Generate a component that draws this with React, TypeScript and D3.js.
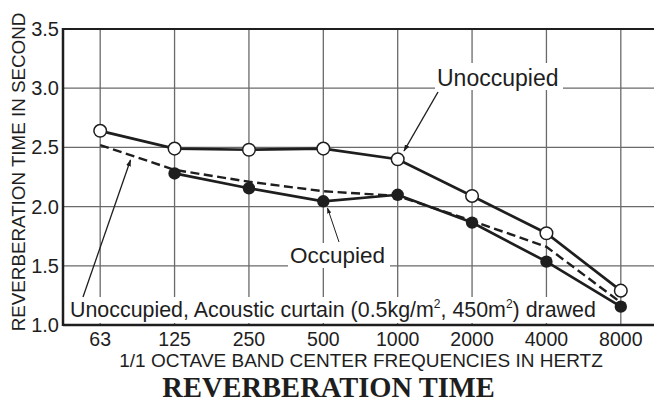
import * as d3 from 'd3';

const frequencies = ['63', '125', '250', '500', '1000', '2000', '4000', '8000'];
const unoccupied = [2.64, 2.49, 2.48, 2.49, 2.4, 2.09, 1.775, 1.29];
const occupied: (number | null)[] = [null, 2.28, 2.155, 2.045, 2.1, 1.865, 1.535, 1.155];
const curtain = [2.52, 2.31, 2.21, 2.13, 2.09, 1.88, 1.66, 1.19];
const yTicks = [1.0, 1.5, 2.0, 2.5, 3.0, 3.5];

const W = 654;
const H = 402;
const margin = { top: 29, left: 63, bottom: 325, right: 658 };
const font = 'Liberation Sans, Arial, Helvetica, sans-serif';
const ink = '#1e1e1e';
const grid = '#6a6a6a';

export default function App() {
  const x = d3.scalePoint<string>().domain(frequencies).range([margin.left, margin.right]).padding(0.5);
  const y = d3.scaleLinear().domain([1, 3.5]).range([margin.bottom, margin.top]);

  const line = d3.line<{ f: string; v: number | null }>()
    .defined((d) => d.v !== null)
    .x((d) => x(d.f)!)
    .y((d) => y(d.v as number));

  const pts = (vals: (number | null)[]) => vals.map((v, i) => ({ f: frequencies[i], v }));

  return (
    <div style={{ position: 'fixed', left: 0, top: 0 }}>
      <svg width={W} height={H} style={{ display: 'block', background: '#fff' }}>
        <defs>
          <marker id="ah" viewBox="0 0 10 10" refX="9" refY="5" markerWidth="7" markerHeight="7" orient="auto-start-reverse" markerUnits="userSpaceOnUse">
            <path d="M0,1.5 L10,5 L0,8.5 Z" fill={ink} />
          </marker>
          <marker id="ahs" viewBox="0 0 10 10" refX="9" refY="5" markerWidth="6" markerHeight="6" orient="auto-start-reverse" markerUnits="userSpaceOnUse">
            <path d="M0,1.5 L10,5 L0,8.5 Z" fill={ink} />
          </marker>
        </defs>

        {/* grid */}
        {frequencies.map((f) => (
          <line key={f} x1={x(f)} x2={x(f)} y1={margin.top} y2={margin.bottom} stroke={grid} strokeWidth={1.3} />
        ))}
        {yTicks.slice(1, -1).map((t) => (
          <line key={t} x1={margin.left} x2={margin.right} y1={y(t)} y2={y(t)} stroke={grid} strokeWidth={1.3} />
        ))}

        {/* frame */}
        <line x1={margin.left} x2={margin.right} y1={margin.top} y2={margin.top} stroke={ink} strokeWidth={2} />
        <line x1={margin.left} x2={margin.right} y1={margin.bottom} y2={margin.bottom} stroke={ink} strokeWidth={2.5} />
        <line x1={margin.left} x2={margin.left} y1={margin.top - 1} y2={margin.bottom + 1} stroke={ink} strokeWidth={2.5} />

        {/* label backgrounds */}
        <rect x={435} y={63} width={128} height={27} fill="#fff" />
        <rect x={288} y={243} width={102} height={25} fill="#fff" />
        <rect x={67} y={297} width={534} height={26} fill="#fff" />

        {/* series */}
        <path d={line(pts(curtain)) ?? ''} fill="none" stroke={ink} strokeWidth={2.4} strokeDasharray="9,4.5" />
        <path d={line(pts(occupied)) ?? ''} fill="none" stroke={ink} strokeWidth={2.7} />
        <path d={line(pts(unoccupied)) ?? ''} fill="none" stroke={ink} strokeWidth={2.7} />

        {pts(occupied).filter((d) => d.v !== null).map((d) => (
          <circle key={'o' + d.f} cx={x(d.f)} cy={y(d.v as number)} r={6.2} fill={ink} />
        ))}
        {pts(unoccupied).map((d) => (
          <circle key={'u' + d.f} cx={x(d.f)} cy={y(d.v as number)} r={6.3} fill="#fff" stroke={ink} strokeWidth={1.5} />
        ))}

        {/* annotations */}
        <text x={437} y={86} fontFamily={font} fontSize={23} fill={ink}>Unoccupied</text>
        <line x1={438} y1={92} x2={404} y2={151} stroke={ink} strokeWidth={1.4} markerEnd="url(#ah)" />

        <text x={290} y={263} fontFamily={font} fontSize={22.5} fill={ink}>Occupied</text>
        <line x1={339} y1={242} x2={327.5} y2={208} stroke={ink} strokeWidth={1} markerEnd="url(#ahs)" />

        <text x={70} y={317} fontFamily={font} fontSize={21.4} fill={ink}>
          Unoccupied, Acoustic curtain (0.5kg/m
          <tspan dy={-9} fontSize={12}>2</tspan>
          <tspan dy={9}>, 450m</tspan>
          <tspan dy={-9} fontSize={12}>2</tspan>
          <tspan dy={9}>) drawed</tspan>
        </text>
        <line x1={83} y1={297} x2={130.5} y2={160} stroke={ink} strokeWidth={1.3} markerEnd="url(#ah)" />

        {/* y ticks */}
        {yTicks.map((t) => (
          <text key={t} x={59} y={y(t) + 7} textAnchor="end" fontFamily={font} fontSize={20} fill={ink}>
            {t.toFixed(1)}
          </text>
        ))}

        {/* x ticks */}
        {frequencies.map((f) => (
          <text key={f} x={x(f)} y={346} textAnchor="middle" fontFamily={font} fontSize={19.5} fill={ink}>
            {f}
          </text>
        ))}

        <text x={361} y={367} textAnchor="middle" fontFamily={font} fontSize={19} fill={ink}>
          1/1 OCTAVE BAND CENTER FREQUENCIES IN HERTZ
        </text>
        <text transform="translate(25,172) rotate(-90)" textAnchor="middle" fontFamily={font} fontSize={18.8} fill={ink}>
          REVERBERATION TIME IN SECOND
        </text>

        <text x={328.5} y={397} textAnchor="middle" fontFamily="Liberation Serif, Times New Roman, serif" fontWeight="bold" fontSize={28.5} fill={ink}>
          REVERBERATION TIME
        </text>
      </svg>
    </div>
  );
}
